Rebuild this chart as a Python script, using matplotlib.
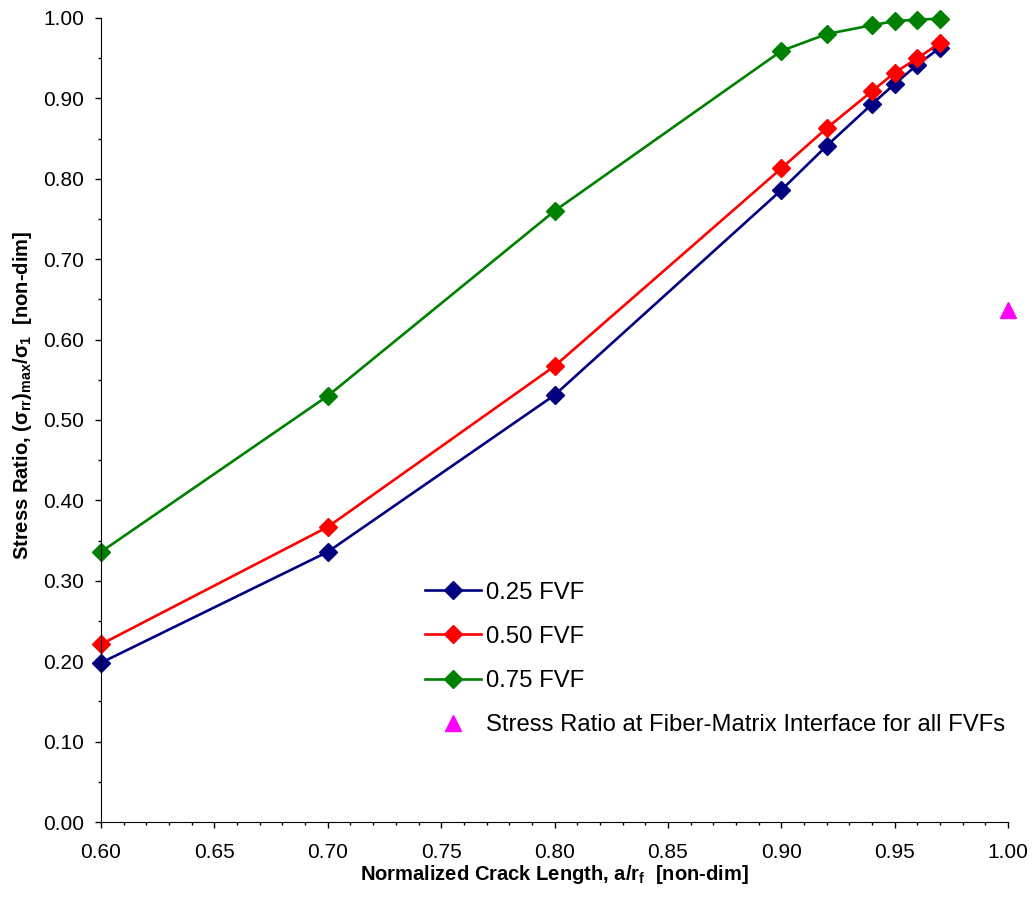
import numpy as np
import matplotlib
matplotlib.use('Agg')
import matplotlib.pyplot as plt
from matplotlib.ticker import MultipleLocator, FormatStrFormatter

plt.rcParams['font.family'] = 'Liberation Sans'
plt.rcParams['mathtext.fontset'] = 'custom'
plt.rcParams['mathtext.rm'] = 'Liberation Sans:bold'

# lunghezze di cricca normalizzate
crack = [0.60, 0.70, 0.80, 0.90, 0.92, 0.94, 0.95, 0.96, 0.97]

# rapporti di tensione per frazione volumetrica di fibra
fvf_025 = [0.198, 0.336, 0.531, 0.786, 0.841, 0.893, 0.918, 0.942, 0.963]
fvf_050 = [0.221, 0.367, 0.567, 0.813, 0.863, 0.909, 0.932, 0.950, 0.969]
fvf_075 = [0.336, 0.530, 0.760, 0.959, 0.980, 0.991, 0.996, 0.998, 0.999]

# punto all'interfaccia fibra-matrice
iface_x = [1.00]
iface_y = [0.637]

fig = plt.figure(figsize=(10.34, 9.07), dpi=100)
ax = fig.add_axes([0.0977, 0.0937, 0.8773, 0.8865])

ax.plot(crack, fvf_025, color='#000080', lw=1.9, marker='D', ms=9, clip_on=False, label='0.25 FVF')
ax.plot(crack, fvf_050, color='#FF0000', lw=1.9, marker='D', ms=9, clip_on=False, label='0.50 FVF')
ax.plot(crack, fvf_075, color='#008000', lw=1.9, marker='D', ms=9, clip_on=False, label='0.75 FVF')
ax.plot(iface_x, iface_y, ls='none', color='#FF00FF', marker='^', ms=11, clip_on=False,
        label='Stress Ratio at Fiber-Matrix Interface for all FVFs')

ax.set_xlim(0.60, 1.00)
ax.set_ylim(0.0, 1.0)
ax.xaxis.set_major_locator(MultipleLocator(0.05))
ax.xaxis.set_minor_locator(MultipleLocator(0.01))
ax.yaxis.set_major_locator(MultipleLocator(0.10))
ax.yaxis.set_minor_locator(MultipleLocator(0.05))
ax.xaxis.set_major_formatter(FormatStrFormatter('%.2f'))
ax.yaxis.set_major_formatter(FormatStrFormatter('%.2f'))
ax.tick_params(which='major', direction='out', length=4, width=1, labelsize=15)
ax.tick_params(axis='x', which='major', pad=11)
ax.tick_params(axis='y', which='major', pad=8)
ax.tick_params(which='minor', direction='out', length=2.5, width=1)

ax.spines['top'].set_visible(False)
ax.spines['right'].set_visible(False)

ax.set_xlabel(r'Normalized Crack Length, a/r$_\mathrm{f}$  [non-dim]', fontsize=14.5, fontweight='bold', labelpad=1)
ax.set_ylabel(r'Stress Ratio, (σ$_\mathrm{rr}$)$_\mathrm{max}$/σ$_\mathrm{1}$  [non-dim]', fontsize=14.5, fontweight='bold')
ax.yaxis.set_label_coords(-0.074, 0.53)

ax.legend(loc='upper left', bbox_to_anchor=(0.3905, 0.3825), bbox_transform=fig.transFigure,
          frameon=False, fontsize=17.2, handlelength=2.35, handletextpad=0.2, labelspacing=0.93)

fig.savefig('out.png', dpi=100)
